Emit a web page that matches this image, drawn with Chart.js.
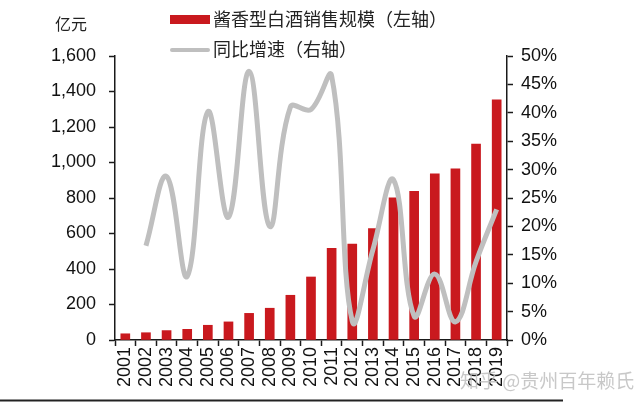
<!DOCTYPE html>
<html>
<head>
<meta charset="utf-8">
<script src="https://cdn.jsdelivr.net/npm/chart.js@4/dist/chart.umd.min.js"></script>
<style>
  html, body { margin: 0; padding: 0; background: #fff; }
  #wrap { position: relative; width: 640px; height: 406px; }
</style>
</head>
<body>
<div id="wrap"><canvas id="c" width="640" height="406"></canvas></div>
<script>
const years = ['2001','2002','2003','2004','2005','2006','2007','2008','2009','2010','2011','2012','2013','2014','2015','2016','2017','2018','2019'];
const salesScale = [35, 41, 53, 60, 83, 102, 150, 179, 252, 355, 517, 541, 628, 801, 838, 936, 964, 1104, 1353];
const yoyGrowth = [null, 16.6, 28.8, 11.2, 40.2, 21.6, 47.3, 20.0, 41.0, 40.6, 46.5, 3.3, 15.9, 28.2, 4.2, 11.6, 3.2, 13.8, 23.0];
const leftTicks = [0, 200, 400, 600, 800, 1000, 1200, 1400, 1600];
const rightTicks = [0, 5, 10, 15, 20, 25, 30, 35, 40, 45, 50];
const barLabel = '酱香型白酒销售规模（左轴）';
const lineLabel = '同比增速（右轴）';
const unitLabel = '亿元';
const watermark = '知乎 @贵州百年赖氏';

const RED = '#C9191E';
const GRAY = '#BFBFBF';
const AX = '#1a1a1a';

const decor = {
  id: 'decor',
  afterDraw(chart) {
    const ctx = chart.ctx;
    ctx.save();
    // unit label
    ctx.fillStyle = '#222';
    ctx.font = '16px "Noto Sans CJK SC"';
    ctx.textBaseline = 'middle';
    ctx.textAlign = 'left';
    ctx.fillText(unitLabel, 55, 24);
    // legend
    ctx.fillStyle = RED;
    ctx.fillRect(170, 15, 40, 9);
    ctx.strokeStyle = GRAY;
    ctx.lineWidth = 4;
    ctx.lineCap = 'round';
    ctx.beginPath();
    ctx.moveTo(172, 50);
    ctx.lineTo(208, 50);
    ctx.stroke();
    ctx.fillStyle = '#222';
    ctx.font = '18px "Noto Sans CJK SC"';
    ctx.fillText(barLabel, 213, 19);
    ctx.fillText(lineLabel, 213, 49);
    // bottom rule
    ctx.strokeStyle = '#222';
    ctx.lineWidth = 2;
    ctx.lineCap = 'butt';
    ctx.beginPath();
    ctx.moveTo(0, 400.5);
    ctx.lineTo(563, 400.5);
    ctx.stroke();
    // watermark
    ctx.fillStyle = 'rgba(190,190,190,0.85)';
    ctx.font = '19px "Noto Sans CJK SC"';
    ctx.fillText(watermark, 460, 381);
    ctx.restore();
  }
};

new Chart(document.getElementById('c'), {
  type: 'bar',
  data: {
    labels: years,
    datasets: [
      {
        type: 'line',
        label: lineLabel,
        data: yoyGrowth,
        yAxisID: 'y1',
        borderColor: GRAY,
        borderWidth: 5,
        pointRadius: 0,
        tension: 0.4,
        fill: false,
        order: 0
      },
      {
        type: 'bar',
        label: barLabel,
        data: salesScale,
        yAxisID: 'y',
        backgroundColor: RED,
        barThickness: 9,
        order: 1
      }
    ]
  },
  options: {
    responsive: false,
    animation: false,
    devicePixelRatio: 1,
    layout: { padding: { top: 56, left: 0, right: 0, bottom: 0 } },
    plugins: { legend: { display: false }, tooltip: { enabled: false } },
    scales: {
      x: {
        grid: { display: true, drawOnChartArea: false, drawTicks: true, tickLength: 6, tickColor: AX, tickWidth: 1.5, offset: true },
        border: { display: true, color: AX, width: 1.5 },
        ticks: { color: '#111', font: { family: '"Liberation Sans", Arial', size: 18 }, minRotation: 90, maxRotation: 90, autoSkip: false, padding: 1 },
        afterFit(s) { s.height = 66; }
      },
      y: {
        position: 'left',
        min: 0, max: 1600,
        afterBuildTicks(s) { s.ticks = leftTicks.map(v => ({ value: v })); },
        grid: { display: true, drawOnChartArea: false, drawTicks: true, tickLength: 6, tickColor: AX, tickWidth: 1.5 },
        border: { display: true, color: AX, width: 1.5 },
        ticks: { color: '#111', font: { family: '"Liberation Sans", Arial', size: 18 }, padding: 13, callback: v => v.toLocaleString('en-US') },
        afterFit(s) { s.width = 115; }
      },
      y1: {
        position: 'right',
        min: 0, max: 50,
        afterBuildTicks(s) { s.ticks = rightTicks.map(v => ({ value: v })); },
        grid: { display: true, drawOnChartArea: false, drawTicks: true, tickLength: 6, tickColor: AX, tickWidth: 1.5 },
        border: { display: true, color: AX, width: 1.5 },
        ticks: { color: '#111', font: { family: '"Liberation Sans", Arial', size: 18 }, padding: 8, callback: v => v + '%' },
        afterFit(s) { s.width = 133; }
      }
    }
  },
  plugins: [decor]
});
</script>
</body>
</html>
